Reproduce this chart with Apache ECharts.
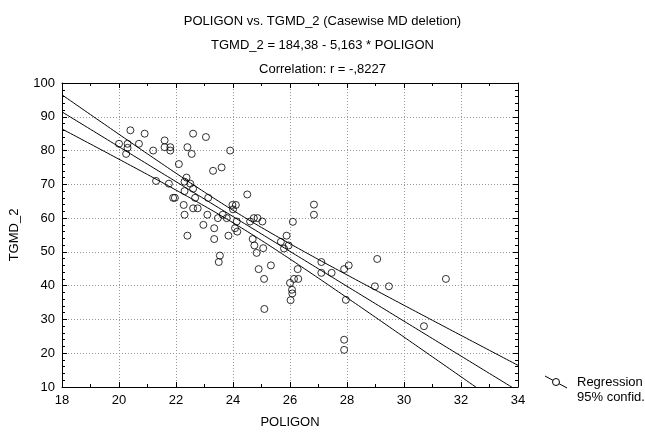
<!DOCTYPE html>
<html>
<head>
<meta charset="utf-8">
<script src="https://cdn.jsdelivr.net/npm/echarts@6/dist/echarts.min.js"></script>
<style>
  html, body { margin: 0; padding: 0; background: #fff; }
  #chart { width: 645px; height: 434px; }
</style>
</head>
<body>
<div id="chart"></div>
<script>
// ---- Data ----
const poligon = [
  20.0, 20.3, 20.3, 20.25, 20.4, 20.7, 20.9, 21.2, 21.6, 21.6,
  21.8, 21.8, 22.1, 22.4, 22.55, 22.6, 23.05, 23.3, 23.6, 23.9,
  21.3, 21.75, 22.37, 22.3, 22.5, 22.6, 22.3, 21.9, 21.96, 22.67,
  23.13, 24.5, 22.27, 22.6, 22.76, 22.3, 23.1, 23.47, 23.64, 23.78,
  23.98, 24.1, 24.0, 24.13, 24.07, 24.15, 22.96, 23.34, 22.4, 23.34,
  23.84, 23.54, 23.5, 24.6, 24.73, 24.86, 25.03, 24.69, 24.75, 24.83,
  25.06, 26.1, 25.88, 25.95, 25.79, 25.68, 24.9, 25.33, 25.09, 26.27,
  26.14, 26.29, 26.0, 26.07, 26.08, 26.02, 25.1, 26.84, 26.84, 27.1,
  27.1, 27.46, 27.9, 28.06, 29.06, 28.98, 29.47, 27.96, 31.47, 30.7,
  27.9, 27.9
];
const tgmd2 = [
  82, 82, 80.8, 79, 86, 82, 85, 80, 83, 81,
  81, 80, 76, 81, 79, 85, 84, 74, 75, 80,
  71, 70.2, 72, 70.8, 70.2, 68.7, 68, 66, 66, 66,
  66, 67, 63.9, 62.9, 62.9, 61, 61, 60, 61, 60,
  63.9, 63.9, 62.6, 59, 57, 56, 58, 57, 54.8, 53.8,
  54.8, 48.9, 47, 59, 60, 60, 59, 53.8, 51.9, 49.7,
  51.1, 58.9, 54.8, 51.9, 51, 53, 44.9, 46, 42, 44.9,
  42, 42, 40.8, 38.8, 37.7, 35.7, 33.1, 64, 61, 47,
  43.8, 43.8, 44.9, 46, 47.9, 39.8, 39.8, 35.8, 42, 28,
  24, 21
];
const xTicks = [18, 20, 22, 24, 26, 28, 30, 32, 34];
const yTicks = [10, 20, 30, 40, 50, 60, 70, 80, 90, 100];
const intercept = 184.38;
const slope = -5.163;
const tCrit = 1.987; // t(0.975, n-2)

// ---- Regression line and 95% confidence band (derived from data) ----
const n = poligon.length;
const xbar = poligon.reduce((a, b) => a + b, 0) / n;
let sxx = 0, sse = 0;
for (let i = 0; i < n; i++) {
  sxx += (poligon[i] - xbar) ** 2;
  const r = tgmd2[i] - (intercept + slope * poligon[i]);
  sse += r * r;
}
const s = Math.sqrt(sse / (n - 2));
const fitLine = [], upper = [], lower = [];
const x0 = xTicks[0], x1 = xTicks[xTicks.length - 1];
for (let k = 0; k <= 320; k++) {
  const x = x0 + (x1 - x0) * k / 320;
  const yh = intercept + slope * x;
  const hw = tCrit * s * Math.sqrt(1 / n + (x - xbar) ** 2 / sxx);
  fitLine.push([x, yh]);
  upper.push([x, yh + hw]);
  lower.push([x, yh - hw]);
}

const font = 'Liberation Sans, Arial, sans-serif';
const chart = echarts.init(document.getElementById('chart'), null, { renderer: 'canvas' });

const baseAxis = {
  type: 'value',
  axisLine: { show: true, onZero: false, lineStyle: { color: '#000', width: 1 } },
  axisTick: { show: true, inside: true, length: 5, lineStyle: { color: '#000' } },
  minorTick: { show: true, length: 3, lineStyle: { color: '#000' } },
  splitLine: { show: false },
  minorSplitLine: { show: false }
};

const lineSeries = (data) => ({
  type: 'line', data, showSymbol: false, symbol: 'none', clip: true,
  lineStyle: { color: '#000', width: 1 }, silent: true, z: 3
});

chart.setOption({
  animation: false,
  backgroundColor: '#fff',
  title: [
    { text: 'POLIGON vs. TGMD_2 (Casewise MD deletion)', left: 'center', top: 10,
      textStyle: { fontFamily: font, fontSize: 13, fontWeight: 'normal', color: '#000' } },
    { text: 'TGMD_2 = 184,38 - 5,163 * POLIGON', left: 'center', top: 34,
      textStyle: { fontFamily: font, fontSize: 13, fontWeight: 'normal', color: '#000' } },
    { text: 'Correlation: r = -,8227', left: 'center', top: 58,
      textStyle: { fontFamily: font, fontSize: 13, fontWeight: 'normal', color: '#000' } }
  ],
  grid: { left: 62, top: 83, right: 127, bottom: 45, containLabel: false },
  xAxis: [
    Object.assign({}, baseAxis, {
      position: 'bottom', min: xTicks[0], max: xTicks[xTicks.length - 1], interval: 2,
      minorTick: { show: true, splitNumber: 2, length: 3, lineStyle: { color: '#000' } },
      axisLabel: { fontFamily: font, fontSize: 13, color: '#000', margin: 7 },
      splitLine: { show: true, lineStyle: { color: '#999', type: [1, 2], width: 1 } },
      name: 'POLIGON', nameLocation: 'middle', nameGap: 29,
      nameTextStyle: { fontFamily: font, fontSize: 13, color: '#000' }
    }),
    Object.assign({}, baseAxis, {
      position: 'top', min: xTicks[0], max: xTicks[xTicks.length - 1], interval: 2,
      minorTick: { show: true, splitNumber: 2, length: 3, lineStyle: { color: '#000' } },
      axisLabel: { show: false }
    })
  ],
  yAxis: [
    Object.assign({}, baseAxis, {
      position: 'left', min: yTicks[0], max: yTicks[yTicks.length - 1], interval: 10,
      minorTick: { show: true, splitNumber: 5, length: 3, lineStyle: { color: '#000' } },
      axisLabel: { fontFamily: font, fontSize: 13, color: '#000', margin: 7 },
      splitLine: { show: true, lineStyle: { color: '#999', type: [1, 2], width: 1 } },
      name: 'TGMD_2', nameLocation: 'middle', nameGap: 41, nameRotate: 90,
      nameTextStyle: { fontFamily: font, fontSize: 13, color: '#000' }
    }),
    Object.assign({}, baseAxis, {
      position: 'right', min: yTicks[0], max: yTicks[yTicks.length - 1], interval: 10,
      minorTick: { show: true, splitNumber: 5, length: 3, lineStyle: { color: '#000' } },
      axisLabel: { show: false }
    })
  ],
  series: [
    {
      type: 'scatter',
      data: poligon.map((x, i) => [x, tgmd2[i]]),
      symbol: 'circle', symbolSize: 7,
      itemStyle: { color: 'rgba(0,0,0,0)', borderColor: '#000', borderWidth: 1 },
      z: 4
    },
    lineSeries(fitLine),
    lineSeries(upper),
    lineSeries(lower)
  ],
  graphic: [
    { type: 'line', shape: { x1: 545, y1: 376, x2: 567, y2: 388 },
      style: { stroke: '#000', lineWidth: 1 } },
    { type: 'circle', shape: { cx: 556, cy: 382, r: 3.5 },
      style: { fill: '#fff', stroke: '#000', lineWidth: 1 } },
    { type: 'text', left: 577, top: 376,
      style: { text: 'Regression', font: '13px ' + font, fill: '#000' } },
    { type: 'text', left: 577, top: 391,
      style: { text: '95% confid.', font: '13px ' + font, fill: '#000' } }
  ]
});
</script>
</body>
</html>
